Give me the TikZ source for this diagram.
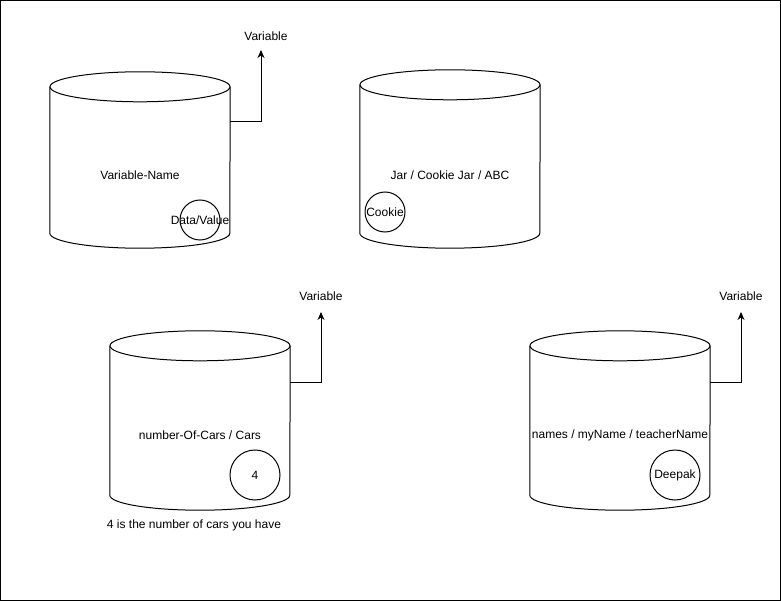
\documentclass[tikz,border=0pt]{standalone}
\usepackage{fontspec}
\setmainfont{Liberation Sans}
\usetikzlibrary{calc,arrows.meta}
% cylinder round a jar node: side lines, bottom arc, top ellipse
\newcommand{\drawjar}[1]{%
  \draw[jarline] ($(#1.north west)+(0,15)$) -- ($(#1.south west)+(0,-15)$)
    arc[start angle=180,end angle=360,x radius=90pt,y radius=15pt]
    -- ($(#1.north east)+(0,15)$);
  \draw[jarline] ($(#1.north)+(0,15)$) ellipse[x radius=90pt,y radius=15pt];
}

\begin{document}
\begin{tikzpicture}[x=1pt,y=-1pt,font=\fontsize{12}{14}\selectfont,
  jar/.style={rectangle,inner sep=0pt,minimum width=180pt},
  jarline/.style={line width=1pt},
  val/.style={circle,draw,line width=1pt,inner sep=0pt,minimum size=#1},
  conn/.style={-{Stealth[length=8pt,width=7pt]},line width=1pt}]
\useasboundingbox (0,0) rectangle (781,601);
\draw[line width=1.4pt] (0.7,0.7) rectangle (780.3,600.3);

% the four jars
\node[jar,minimum height=176pt] (jar1) at (140,160) {};
\node[jar,minimum height=178pt] (jar2) at (450,159) {};
\node[jar,minimum height=179pt] (jar3) at (200,420.5) {};
\node[jar,minimum height=179pt] (jar4) at (620,420.5) {};
\drawjar{jar1}
\drawjar{jar2}
\drawjar{jar3}
\drawjar{jar4}

\node (name1) at (140,175) {Variable-Name};
\node (name2) at (450,175) {Jar / Cookie Jar / ABC};
\node (name3) at (200,435) {number-Of-Cars / Cars};
\node (name4) at (620,435) {names / myName / teacherName};

% values inside
\node[val=40pt] (data) at (200,220) {\makebox[0pt]{Data/Value}};
\node[val=40pt] (cookie) at (385,212) {\makebox[0pt]{Cookie}};
\node[val=50pt] (four) at (255,475) {4};
\node[val=50pt] (deepak) at (675,475) {Deepak};

\node (note) at (194,525) {4 is the number of cars you have};

% variable arrows
\node (var1) at (266,36) {Variable};
\node (var3) at (321,296) {Variable};
\node (var4) at (741,296) {Variable};
\coordinate (tip1) at (261,50);
\coordinate (tip3) at (321,312);
\coordinate (tip4) at (741,312);
\draw[conn] ($(jar1.north east)+(0,50)$) -| (tip1);
\draw[conn] ($(jar3.north east)+(0,52)$) -| (tip3);
\draw[conn] ($(jar4.north east)+(0,52)$) -| (tip4);
\end{tikzpicture}
\end{document}
